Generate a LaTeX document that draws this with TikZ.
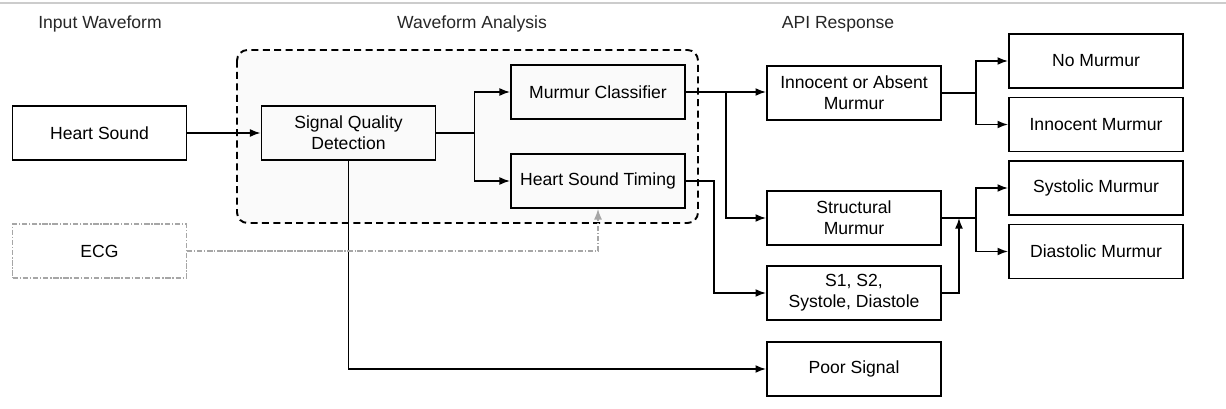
\documentclass[tikz,border=0pt]{standalone}
\usepackage{fontspec}
\setmainfont{Liberation Sans}
\usetikzlibrary{arrows.meta,calc}
\begin{document}
\begin{tikzpicture}[font=\fontsize{10}{12}\selectfont,>={Latex[length=6pt,width=4.5pt]},
  box/.style={rectangle,draw,line width=1.1pt,minimum width=3.48cm,minimum height=1.08cm,inner sep=0pt,align=center},
  ecgbox/.style={box,draw=gray!70,line width=0.8pt,densely dashdotted},
  title/.style={text=black!85},
  link/.style={->,line width=0.9pt},
  ecglink/.style={->,draw=gray!70,line width=0.7pt,densely dashdotted}]
            \useasboundingbox (0,0) rectangle (24.52,-8.18);
            \draw[gray!40,line width=1pt] (0,-0.06) -- (24.52,-0.06);
            % column titles
            \node[title] (t1) at (2.0,-0.48) {Input Waveform};
            \node[title] (t2) at (9.44,-0.48) {Waveform Analysis};
            \node[title] (t3) at (16.76,-0.48) {API Response};
            % analysis group
            \path[draw,dash pattern=on 4pt off 2.5pt,line width=1.1pt,rounded corners=6pt,fill=gray!4] (4.74,-1.0) rectangle (13.96,-4.46);
            \node[box] (hs) at (1.99,-2.66) {Heart Sound};
            \node[ecgbox] (ecg) at (1.99,-5.02) {ECG};
            \node[box] (sqd) at (6.97,-2.66) {Signal Quality\\Detection};
            \node[box] (mc) at (11.96,-1.84) {Murmur Classifier};
            \node[box] (hst) at (11.96,-3.62) {Heart Sound Timing};
            \node[box] (ioa) at (17.08,-1.86) {Innocent or Absent\\Murmur};
            \node[box] (sm) at (17.08,-4.36) {Structural\\Murmur};
            \node[box] (s12) at (17.08,-5.86) {S1, S2,\\Systole, Diastole};
            \node[box] (ps) at (17.08,-7.38) {Poor Signal};
            \node[box] (nm) at (21.92,-1.22) {No Murmur};
            \node[box] (im) at (21.92,-2.49) {Innocent Murmur};
            \node[box] (sys) at (21.92,-3.76) {Systolic Murmur};
            \node[box] (dia) at (21.92,-5.03) {Diastolic Murmur};
            \coordinate (j) at ($(sm.east)+(0.34,0)$);
            % connectors
            \path[draw,link] (hs) -- (sqd);
            \path[draw,link] (sqd.east) -- ++(0.76,0) |- (mc.west);
            \path[draw,link] (sqd.east) -- ++(0.76,0) |- (hst.west);
            \path[draw,link] (mc.east) -- (mc.east -| ioa.west);
            \path[draw,link] (mc.east) -- ++(0.8,0) |- (sm.west);
            \path[draw,link] (hst.east) -- ++(0.56,0) |- (s12.west);
            \path[draw,link] (ioa.east) -- ++(0.68,0) |- (nm.west);
            \path[draw,link] (ioa.east) -- ++(0.68,0) |- (im.west);
            \path[draw,link] (sm.east) -- ++(0.68,0) |- (sys.west);
            \path[draw,link] (sm.east) -- ++(0.68,0) |- (dia.west);
            \path[draw,link] (s12.east) -| (j);
            \path[draw,link] (sqd.south) |- (ps.west);
            \path[draw,ecglink] (ecg.east) -| (hst.south);
        \end{tikzpicture}
\end{document}
